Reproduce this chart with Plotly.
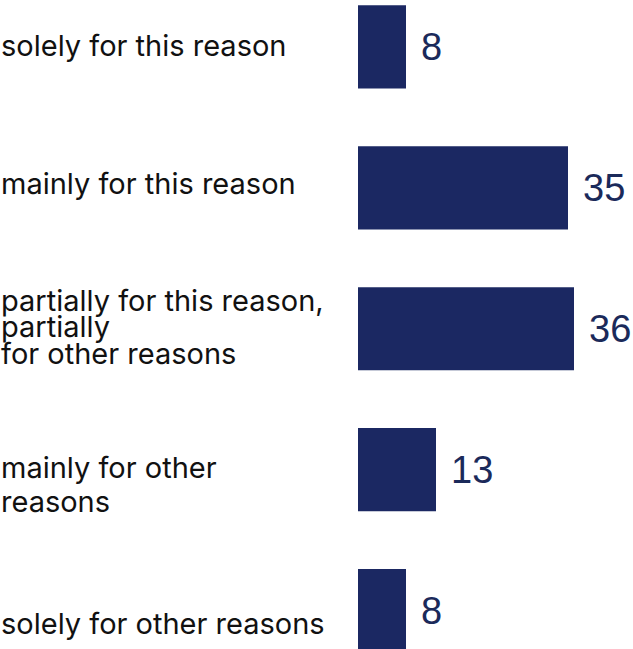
import plotly.graph_objects as go

categories = [
    "solely for this reason",
    "mainly for this reason",
    "partially for this reason,<br>partially<br>for other reasons",
    "mainly for other<br>reasons",
    "solely for other reasons",
]
values = [8, 35, 36, 13, 8]

BAR_COLOR = "#1b2862"
TEXT_COLOR = "#111111"
VALUE_COLOR = "#1b2a5a"
LABEL_FONT = "Inter"
LABEL_SIZE = 29
VALUE_SIZE = 38

LEFT = 358

# per-label vertical offsets (px, positive = down) and line spacing (px)
label_shift = [-1.5, -4, -2, 15, 13]
line_gap = [34, 34, 26.5, 34, 34]

ypos = list(range(len(categories)))

fig = go.Figure(
    go.Bar(
        x=values,
        y=ypos,
        orientation="h",
        marker=dict(color=BAR_COLOR, line=dict(width=0)),
        hoverinfo="skip",
    )
)

annotations = []
for i, (lab, v) in enumerate(zip(categories, values)):
    lines = lab.split("<br>")
    n = len(lines)
    for k, ln in enumerate(lines):
        off = (k - (n - 1) / 2) * line_gap[i] + label_shift[i]
        annotations.append(dict(
            x=0, xref="paper", xshift=-LEFT - 1, xanchor="left",
            y=i, yref="y", yanchor="middle", yshift=-off,
            text=ln, showarrow=False, align="left",
            font=dict(family=LABEL_FONT, size=LABEL_SIZE, color=TEXT_COLOR),
        ))
    annotations.append(dict(
        x=v, xref="x", xanchor="left", xshift=13,
        y=i, yref="y", yanchor="middle",
        text=str(v), showarrow=False,
        font=dict(family="Liberation Sans", size=VALUE_SIZE, color=VALUE_COLOR),
    ))

fig.update_layout(
    width=633, height=649,
    margin=dict(l=LEFT, r=0, t=0, b=0),
    paper_bgcolor="white", plot_bgcolor="white",
    bargap=0.41,
    showlegend=False,
    hovermode=False,
    annotations=annotations,
    xaxis=dict(range=[0, 275 / 6], visible=False, fixedrange=True),
    yaxis=dict(range=[4.273, -0.333], visible=False, fixedrange=True),
)

fig.write_html(
    "out.html",
    config={"displayModeBar": False, "staticPlot": True},
    post_script="document.body.style.margin='0';document.body.style.overflow='hidden';",
)
